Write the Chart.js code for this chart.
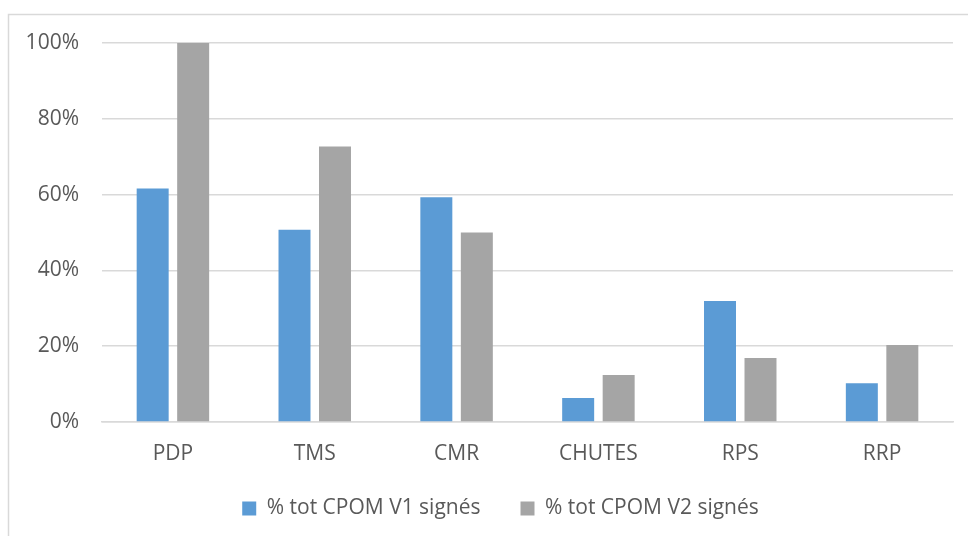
<!DOCTYPE html>
<html>
<head>
<meta charset="utf-8">
<script src="https://cdn.jsdelivr.net/npm/chart.js@4/dist/chart.umd.min.js"></script>
<style>
  html, body { margin: 0; padding: 0; background: #fff; overflow: hidden; }
  #wrap { position: relative; width: 968px; height: 536px; }
</style>
</head>
<body>
<div id="wrap"><canvas id="chart"></canvas></div>
<script>
// Données
const categories = ['PDP', 'TMS', 'CMR', 'CHUTES', 'RPS', 'RRP'];
const seriesLabels = ['% tot CPOM V1 signés', '% tot CPOM V2 signés'];
const v1Values = [61.6, 50.7, 59.3, 6.3, 31.9, 10.2];
const v2Values = [100, 72.7, 50, 12.4, 16.9, 20.3];
const yTicks = [0, 20, 40, 60, 80, 100];

const C = {
    blue: '#5B9BD5',
    gray: '#A5A5A5',
    grid: '#D9D9D9',
    text: '#595959'
};

Chart.defaults.font.family = '"Open Sans", sans-serif';
Chart.defaults.color = C.text;

// cadre gris clair autour du graphique (haut + gauche visibles)
const frame = {
    id: 'frame',
    afterLayout(chart) {
        // caler la légende comme dans l'original
        const lg = chart.legend;
        lg.top -= 7;
        lg.bottom -= 7;
        lg.left += 24;
        lg.right += 24;
    },
    beforeDraw(chart) {
        const ctx = chart.ctx;
        ctx.save();
        ctx.strokeStyle = C.grid;
        ctx.lineWidth = 1.5;
        ctx.beginPath();
        ctx.moveTo(8.5, chart.height + 5);
        ctx.lineTo(8.5, 14.5);
        ctx.lineTo(chart.width + 5, 14.5);
        ctx.stroke();
        ctx.restore();
    }
};

new Chart(document.getElementById('chart'), {
    type: 'bar',
    data: {
        labels: categories,
        datasets: [{
            label: seriesLabels[0],
            data: v1Values,
            backgroundColor: C.blue,
            categoryPercentage: 0.571,
            barPercentage: 0.79
        }, {
            label: seriesLabels[1],
            data: v2Values,
            backgroundColor: C.gray,
            categoryPercentage: 0.571,
            barPercentage: 0.79
        }]
    },
    options: {
        responsive: true,
        maintainAspectRatio: false,
        animation: false,
        layout: {padding: {top: 43, right: 15, bottom: 0, left: 0}},
        plugins: {
            legend: {
                position: 'bottom',
                labels: {
                    boxWidth: 14,
                    boxHeight: 14,
                    padding: 40,
                    font: {size: 21},
                    color: C.text
                }
            },
            tooltip: {enabled: false}
        },
        scales: {
            x: {
                grid: {display: false, drawTicks: false},
                border: {color: C.grid, width: 1.5},
                ticks: {padding: 19, font: {size: 21}, color: C.text},
                afterFit: s => { s.height = 43; }
            },
            y: {
                min: 0,
                max: 100,
                afterBuildTicks: s => { s.ticks = yTicks.map(v => ({value: v})); },
                grid: {color: C.grid, lineWidth: 1.5, drawTicks: false},
                border: {display: false},
                ticks: {
                    padding: 23,
                    font: {size: 21},
                    color: C.text,
                    callback: v => v + '%'
                },
                afterFit: s => { s.width = 102; }
            }
        }
    },
    plugins: [frame]
});
</script>
</body>
</html>
